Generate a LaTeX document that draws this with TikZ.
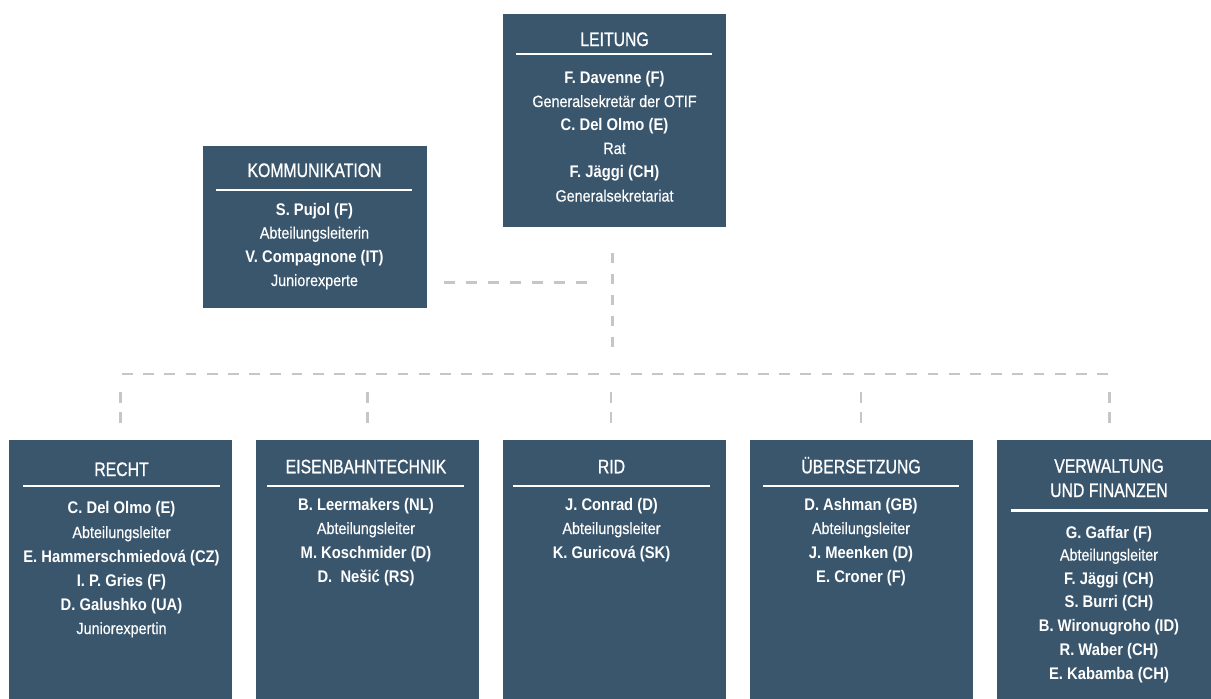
\documentclass[tikz,border=0pt]{standalone}
\usepackage{fontspec}
\newfontfamily\cond{Liberation Sans}[FakeStretch=0.88]
\newfontfamily\condR{Liberation Sans}[FakeStretch=0.88, FakeBold=0.4]
\newfontfamily\condT{Liberation Sans}[FakeStretch=0.81, FakeBold=0.9]
\newcommand\ttlfont{\condT\fontsize{19.5}{22}\selectfont}
\newcommand\nmfont{\cond\bfseries\fontsize{16.8}{20}\selectfont}
\newcommand\rgfont{\condR\fontsize{16.3}{20}\selectfont}
\definecolor{boxblue}{HTML}{3A566D}
\definecolor{dashgray}{HTML}{C6C6C6}
\tikzset{
  box/.style={fill=boxblue, draw=none, inner sep=0pt, outer sep=0pt, anchor=north west},
  ttl/.style={text=white, font=\ttlfont, anchor=base, inner sep=0pt},
  nm/.style={text=white, font=\nmfont, anchor=base, inner sep=0pt},
  rg/.style={text=white, font=\rgfont, anchor=base, inner sep=0pt},
  hrule/.style={draw=white, line width=2.6pt},
  conn/.style={draw=dashgray, line width=2.6pt},
}
\begin{document}
\begin{tikzpicture}[x=1pt,y=-1pt]
\useasboundingbox (0,0) rectangle (1211,699);

% ---------- boxes ----------
\node[box, minimum width=223pt, minimum height=213pt] (leit) at (503,14) {};
\node[box, minimum width=224pt, minimum height=162pt] (komm) at (203,146) {};
\node[box, minimum width=223pt, minimum height=259pt] (recht) at (9,440) {};
\node[box, minimum width=223pt, minimum height=259pt] (eisen) at (256,440) {};
\node[box, minimum width=223pt, minimum height=259pt] (rid) at (503,440) {};
\node[box, minimum width=223pt, minimum height=259pt] (uber) at (750,440) {};
\node[box, minimum width=214pt, minimum height=259pt] (verw) at (997,440) {};

% ---------- LEITUNG ----------
\node[ttl] (leitT) at (614.5,46) {LEITUNG};
\draw[hrule] (516,54) -- (712,54);
\node[nm] (leit1) at (614.5,83) {F. Davenne (F)};
\node[rg] (leit2) at (614.5,107) {Generalsekretär der OTIF};
\node[nm] (leit3) at (614.5,130) {C. Del Olmo (E)};
\node[rg] (leit4) at (614.5,154) {Rat};
\node[nm] (leit5) at (614.5,177) {F. Jäggi (CH)};
\node[rg] (leit6) at (614.5,201.5) {Generalsekretariat};

% ---------- KOMMUNIKATION ----------
\node[ttl] (kommT) at (314.5,177) {KOMMUNIKATION};
\draw[hrule] (216,190) -- (412,190);
\node[nm] (komm1) at (314.5,215.5) {S. Pujol (F)};
\node[rg] (komm2) at (314.5,238.5) {Abteilungsleiterin};
\node[nm] (komm3) at (314.5,262) {V. Compagnone (IT)};
\node[rg] (komm4) at (314.5,286) {Juniorexperte};

% ---------- RECHT ----------
\node[ttl] (rechtT) at (121.5,476) {RECHT};
\draw[hrule] (23,486) -- (220,486);
\node[nm] (recht1) at (121.5,513.5) {C. Del Olmo (E)};
\node[rg] (recht2) at (121.5,538) {Abteilungsleiter};
\node[nm] (recht3) at (121.5,562) {E. Hammerschmiedová (CZ)};
\node[nm] (recht4) at (121.5,586) {I. P. Gries (F)};
\node[nm] (recht5) at (121.5,610) {D. Galushko (UA)};
\node[rg] (recht6) at (121.5,634) {Juniorexpertin};

% ---------- EISENBAHNTECHNIK ----------
\node[ttl] (eisenT) at (366,473.3) {EISENBAHNTECHNIK};
\draw[hrule] (267,486) -- (464,486);
\node[nm] (eisen1) at (366,510.7) {B. Leermakers (NL)};
\node[rg] (eisen2) at (366,534) {Abteilungsleiter};
\node[nm] (eisen3) at (366,558) {M. Koschmider (D)};
\node[nm] (eisen4) at (366,582) {D.\ \ Nešić (RS)};

% ---------- RID ----------
\node[ttl] (ridT) at (611.5,473.3) {RID};
\draw[hrule] (513,486) -- (710,486);
\node[nm] (rid1) at (611.5,510.7) {J. Conrad (D)};
\node[rg] (rid2) at (611.5,534) {Abteilungsleiter};
\node[nm] (rid3) at (611.5,558) {K. Guricová (SK)};

% ---------- UEBERSETZUNG ----------
\node[ttl] (uberT) at (861,473.3) {ÜBERSETZUNG};
\draw[hrule] (763,486) -- (959,486);
\node[nm] (uber1) at (861,510.7) {D. Ashman (GB)};
\node[rg] (uber2) at (861,534) {Abteilungsleiter};
\node[nm] (uber3) at (861,558) {J. Meenken (D)};
\node[nm] (uber4) at (861,582) {E. Croner (F)};

% ---------- VERWALTUNG ----------
\node[ttl] (verwT1) at (1109,472.7) {VERWALTUNG};
\node[ttl] (verwT2) at (1109,497) {UND FINANZEN};
\draw[hrule] (1011,510.3) -- (1208,510.3);
\node[nm] (verw1) at (1109,538) {G. Gaffar (F)};
\node[rg] (verw2) at (1109,560.5) {Abteilungsleiter};
\node[nm] (verw3) at (1109,584) {F. Jäggi (CH)};
\node[nm] (verw4) at (1109,607.5) {S. Burri (CH)};
\node[nm] (verw5) at (1109,631.5) {B. Wironugroho (ID)};
\node[nm] (verw6) at (1109,655) {R. Waber (CH)};
\node[nm] (verw7) at (1109,679) {E. Kabamba (CH)};

% ---------- connectors ----------
\coordinate (busL) at (122,374);
\coordinate (busR) at (1108.5,374);
\coordinate (hub) at (612.7,374);
\coordinate (kj) at (612.7,282.3);

% Leitung down to bus
\draw[conn, dash pattern=on 10pt off 10.83pt, shorten <=26.3pt, shorten >=27pt]
  (leit.south -| hub) -- (hub);
% Kommunikation to main line
\draw[conn, dash pattern=on 11pt off 11pt, shorten <=17pt, shorten >=25.4pt]
  (komm.east |- kj) -- (kj);
% bus
\draw[conn, dash pattern=on 10.7pt off 10.5pt] (busL) -- (busR);
% stubs
\foreach \n/\x in {recht/120.3, eisen/367.3, rid/611, uber/861, verw/1109.3}{
  \coordinate (b\n) at (\x,374);
  \draw[conn, dash pattern=on 10.7pt off 9.3pt, shorten <=18pt, shorten >=17.3pt]
    (b\n) -- (b\n |- \n.north);
}
\end{tikzpicture}
\end{document}
